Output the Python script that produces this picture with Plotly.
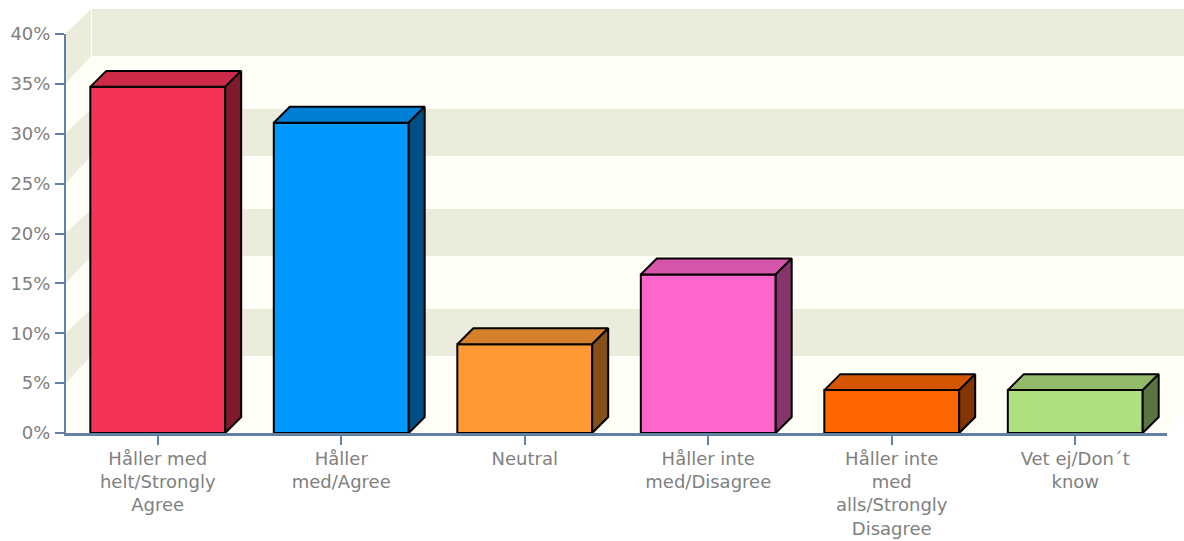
import plotly.graph_objects as go

categories = ["Håller med<br>helt/Strongly<br>Agree", "Håller<br>med/Agree", "Neutral",
              "Håller inte<br>med/Disagree", "Håller inte<br>med<br>alls/Strongly<br>Disagree",
              "Vet ej/Don´t<br>know"]
values = [34.7, 31.1, 8.9, 15.9, 4.3, 4.3]
front_colors = ["#F33456", "#0099FF", "#FF9933", "#FF66CC", "#FF6600", "#AFDF7E"]
top_colors = ["#CC2A48", "#0080D5", "#D5802B", "#D555AB", "#D55500", "#92BA69"]
side_colors = ["#7E1A2C", "#004F85", "#85501A", "#85356A", "#853500", "#5B7441"]
y_ticks = [0, 5, 10, 15, 20, 25, 30, 35, 40]
y_labels = [f"{t}%" for t in y_ticks]
dark_bands = [(5, 10), (15, 20), (25, 30), (35, 40)]

# Page pixel geometry (body margin removed below, so figure fills the window)
FIG_W, FIG_H = 1184, 541
AX_L, AX_R, AX_T, AX_B = 66, 1167, 34, 433
PW, PH = AX_R - AX_L, AX_B - AX_T
BAR_W = 0.735
DX, DY = 16 / (PW / 6), 1.6


def px(x):
    return (x - AX_L) / PW


def py(y):
    return (AX_B - y) / PH


def path(points):
    return "M " + " L ".join(f"{a:.5f},{b:.5f}" for a, b in points) + " Z"


shapes = []
LIGHT, DARK = "#FFFEF7", "#ECECDD"
shapes.append(dict(type="path", xref="paper", yref="paper", layer="below", line_width=0, fillcolor=LIGHT,
                   path=path([(px(66), py(433)), (px(1167), py(433)), (px(1184), py(410)), (px(1184), py(10)),
                              (px(92), py(10)), (px(66), py(34))])))
for lo, hi in dark_bands:
    y_hi = 433 - hi * 10 - 24
    y_lo = 433 - lo * 10 - 27
    shapes.append(dict(type="rect", xref="paper", yref="paper", layer="below", line_width=0, fillcolor=DARK,
                       x0=px(92), x1=px(1184), y0=py(y_lo), y1=py(y_hi)))
    shapes.append(dict(type="path", xref="paper", yref="paper", layer="below", line_width=0, fillcolor=DARK,
                       path=path([(px(66), py(433 - hi * 10)), (px(91), py(y_hi)), (px(91), py(y_lo)),
                                  (px(66), py(433 - lo * 10))])))

positions = list(range(len(values)))
fig = go.Figure()
fig.add_trace(go.Bar(x=positions, y=values, width=BAR_W, marker=dict(color=front_colors, line=dict(color="#000000", width=2)),
                     showlegend=False, hoverinfo="skip"))
for p, v, tc, sc in zip(positions, values, top_colors, side_colors):
    x0, x1 = p - BAR_W / 2, p + BAR_W / 2
    fig.add_trace(go.Scatter(x=[x0, x0 + DX, x1 + DX, x1, x0], y=[v, v + DY, v + DY, v, v], mode="lines", fill="toself",
                             fillcolor=tc, line=dict(color="#000000", width=2), showlegend=False, hoverinfo="skip",
                             cliponaxis=False))
    fig.add_trace(go.Scatter(x=[x1, x1 + DX, x1 + DX, x1, x1], y=[v, v + DY, DY, 0, v], mode="lines", fill="toself",
                             fillcolor=sc, line=dict(color="#000000", width=2), showlegend=False, hoverinfo="skip",
                             cliponaxis=False))

font = dict(family="DejaVu Sans, sans-serif", size=18, color="#808080")
fig.update_layout(
    width=FIG_W, height=FIG_H, autosize=False,
    margin=dict(l=AX_L, r=FIG_W - AX_R, t=AX_T, b=FIG_H - AX_B, pad=0),
    paper_bgcolor="#FFFFFF", plot_bgcolor="rgba(0,0,0,0)", shapes=shapes, font=font,
    xaxis=dict(range=[-0.5, 5.5], tickmode="array", tickvals=positions, ticktext=categories, showgrid=False,
               zeroline=False, showline=True, linecolor="#6080A8", linewidth=3, ticks="outside", ticklen=9,
               tickwidth=2, tickcolor="#6080A8", tickfont=font, tickangle=0, fixedrange=True, automargin=False,
               ticklabelstandoff=-2),
    yaxis=dict(range=[0, 40], tickmode="array", tickvals=y_ticks, ticktext=y_labels, showgrid=False, zeroline=False,
               showline=True, linecolor="#6080A8", linewidth=2, ticks="outside", ticklen=9, tickwidth=2,
               tickcolor="#6080A8", tickfont=font, fixedrange=True, ticklabelstandoff=1, automargin=False),
)
fig.write_html("out.html", config=dict(displayModeBar=False),
               post_script="document.body.style.margin='0';document.documentElement.style.overflow='hidden';")
